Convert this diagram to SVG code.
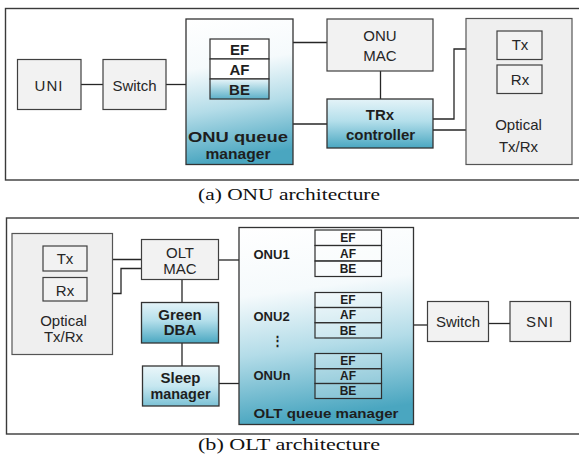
<svg xmlns="http://www.w3.org/2000/svg" width="579" height="459" viewBox="0 0 579 459">
<defs>
<linearGradient id="qm" x1="0" y1="0" x2="0.12" y2="1">
<stop offset="0" stop-color="#ffffff"/>
<stop offset="0.35" stop-color="#f5fafc"/>
<stop offset="0.65" stop-color="#b3dce8"/>
<stop offset="1" stop-color="#4aa6c0"/>
</linearGradient>
<linearGradient id="dk" x1="0" y1="0" x2="0" y2="1">
<stop offset="0" stop-color="#e4f3f8"/>
<stop offset="0.45" stop-color="#b4dfeb"/>
<stop offset="1" stop-color="#4aa7c1"/>
</linearGradient>
<linearGradient id="lt" x1="0" y1="0" x2="0" y2="1">
<stop offset="0" stop-color="#eaf6fa"/>
<stop offset="0.5" stop-color="#c6e7f0"/>
<stop offset="1" stop-color="#7cc2d6"/>
</linearGradient>
<linearGradient id="be" x1="0" y1="0" x2="0" y2="1">
<stop offset="0" stop-color="#e8f5f9"/>
<stop offset="1" stop-color="#5cb0c8"/>
</linearGradient>
</defs>
<style>
.frame{fill:#ffffff;stroke:#3a3a3a;stroke-width:1.4}
.box{fill:#f2f2f2;stroke:#3f3f3f;stroke-width:1.2}
.opt{fill:#efefef;stroke:#555555;stroke-width:1.2}
.qm{fill:url(#qm);stroke:#333333;stroke-width:1.3}
.dk{fill:url(#dk);stroke:#333333;stroke-width:1.3}
.lt{fill:url(#lt);stroke:#333333;stroke-width:1.3}
.cell{fill:#ffffff;stroke:#2e2e2e;stroke-width:1.2}
.cellt{fill:#ffffff;fill-opacity:0.25;stroke:#2e2e2e;stroke-width:1.2}
.t{font-family:"Liberation Sans",Arial,sans-serif;font-size:15px;fill:#262626;text-anchor:middle}
.b{font-family:"Liberation Sans",Arial,sans-serif;font-size:15px;font-weight:bold;fill:#1e1e1e;text-anchor:middle}
.bs{font-family:"Liberation Sans",Arial,sans-serif;font-size:12px;font-weight:bold;fill:#1e1e1e;text-anchor:middle}
.bl{font-family:"Liberation Sans",Arial,sans-serif;font-size:13px;font-weight:bold;fill:#1e1e1e}
.cap{font-family:"Liberation Serif","Times New Roman",serif;font-size:17px;fill:#111111;text-anchor:middle}
.ln{fill:none;stroke:#262626;stroke-width:1.3}
</style>

<!-- frames -->
<rect class="frame" x="5.5" y="8.5" width="576" height="171.5"/>
<rect class="frame" x="6.5" y="218" width="576" height="216"/>

<!-- connectors -->
<g id="connectors">
<line class="ln" x1="81" y1="84.5" x2="103" y2="84.5"/>
<line class="ln" x1="166" y1="84.5" x2="186" y2="84.5"/>
<line class="ln" x1="293" y1="42.5" x2="327" y2="42.5"/>
<line class="ln" x1="293" y1="124" x2="327" y2="124"/>
<line class="ln" x1="380.5" y1="71" x2="380.5" y2="99"/>
<polyline class="ln" points="433,119 454,119 454,49 497,49"/>
<polyline class="ln" points="433,130 475.5,130 475.5,79.5 497,79.5"/>
<line class="ln" x1="87" y1="259.5" x2="141" y2="259.5"/>
<polyline class="ln" points="87,293.5 121,293.5 121,268.5 141,268.5"/>
<line class="ln" x1="218" y1="260" x2="239" y2="260"/>
<line class="ln" x1="182" y1="279" x2="182" y2="302"/>
<line class="ln" x1="182" y1="343" x2="182" y2="366"/>
<line class="ln" x1="219" y1="383.5" x2="239" y2="383.5"/>
<line class="ln" x1="413" y1="325" x2="427" y2="325"/>
<line class="ln" x1="488" y1="323.5" x2="510" y2="323.5"/>
</g>

<!-- ONU architecture -->
<g id="uni">
<rect class="box" x="17.5" y="59.5" width="63.5" height="50"/>
<text class="t" x="49" y="90.5" font-size="16.5" letter-spacing="1">UNI</text>
</g>
<g id="onu-switch">
<rect class="box" x="103" y="59.5" width="63" height="50"/>
<text class="t" x="134.5" y="90.5" font-size="16.5">Switch</text>
</g>
<g id="onu-queue-manager">
<rect class="qm" x="186" y="19" width="107" height="145.5"/>
<rect class="cell" x="210" y="39" width="59" height="20"/>
<rect class="cell" x="210" y="59" width="59" height="20"/>
<rect x="210" y="79" width="59" height="20" fill="url(#be)" stroke="#2e2e2e" stroke-width="1.2"/>
<text class="b" x="239.5" y="55" font-size="15">EF</text>
<text class="b" x="239.5" y="75" font-size="15">AF</text>
<text class="b" x="239.5" y="95" font-size="15">BE</text>
<text class="b" x="238" y="141.5" font-size="16" textLength="100" lengthAdjust="spacingAndGlyphs">ONU queue</text>
<text class="b" x="238" y="158.5" font-size="16" textLength="65" lengthAdjust="spacingAndGlyphs">manager</text>
</g>
<g id="onu-mac">
<rect class="box" x="327" y="19" width="106" height="52"/>
<text class="t" x="380" y="40.5" font-size="15">ONU</text>
<text class="t" x="380" y="60.5" font-size="15">MAC</text>
</g>
<g id="trx-controller">
<rect class="dk" x="327" y="99" width="106" height="49"/>
<text class="b" x="380" y="120" font-size="15">TRx</text>
<text class="b" x="380.5" y="140" font-size="15.5">controller</text>
</g>
<g id="onu-optical">
<rect class="opt" x="466" y="18.5" width="106" height="146"/>
<rect class="box" x="497" y="31" width="45" height="28.5"/>
<rect class="box" x="497" y="65" width="45" height="28.5"/>
<text class="t" x="520" y="50" font-size="14.5">Tx</text>
<text class="t" x="520" y="85" font-size="14.5">Rx</text>
<text class="t" x="518.5" y="129.5" font-size="15.5">Optical</text>
<text class="t" x="518.5" y="151.5" font-size="15.5">Tx/Rx</text>
</g>
<text class="cap" x="289" y="199.5" textLength="182" lengthAdjust="spacingAndGlyphs">(a) ONU architecture</text>

<!-- OLT architecture -->
<g id="olt-optical">
<rect class="opt" x="12" y="233.5" width="100.5" height="121"/>
<rect class="box" x="43" y="246" width="44" height="25"/>
<rect class="box" x="43" y="277.5" width="44" height="23.5"/>
<text class="t" x="65" y="263.5" font-size="13.5">Tx</text>
<text class="t" x="65" y="295.5" font-size="13.5">Rx</text>
<text class="t" x="63.5" y="326" font-size="14.5">Optical</text>
<text class="t" x="63.5" y="342" font-size="14.5">Tx/Rx</text>
</g>
<g id="olt-mac">
<rect class="box" x="141.5" y="239.5" width="77" height="40"/>
<text class="t" x="180" y="257.5" font-size="14">OLT</text>
<text class="t" x="180" y="273.5" font-size="14">MAC</text>
</g>
<g id="green-dba">
<rect class="dk" x="141.5" y="302.5" width="77" height="40.5"/>
<text class="b" x="180" y="319.5" font-size="13.5">Green</text>
<text class="b" x="180" y="335" font-size="13.5">DBA</text>
</g>
<g id="sleep-manager">
<rect class="lt" x="142.5" y="366" width="76.5" height="40"/>
<text class="b" x="180.5" y="383" font-size="13.5">Sleep</text>
<text class="b" x="180.5" y="399" font-size="13.5" textLength="60" lengthAdjust="spacingAndGlyphs">manager</text>
</g>
<g id="olt-queue-manager">
<rect class="qm" x="239" y="227.5" width="174.5" height="197"/>
<text class="bl" x="253.5" y="258.5">ONU1</text>
<text class="bl" x="253.5" y="320.5">ONU2</text>
<text class="bl" x="271" y="345">⋮</text>
<text class="bl" x="253.5" y="379.5">ONUn</text>
<text class="bl" x="253.5" y="418" textLength="145" lengthAdjust="spacingAndGlyphs">OLT queue manager</text>
<rect class="cellt" x="315" y="230" width="66.5" height="15.5"/>
<rect class="cellt" x="315" y="245.5" width="66.5" height="15.5"/>
<rect class="cellt" x="315" y="261" width="66.5" height="15.5"/>
<text class="bs" x="348" y="242">EF</text>
<text class="bs" x="348" y="257.5">AF</text>
<text class="bs" x="348" y="273">BE</text>
<rect class="cellt" x="315" y="292.5" width="66.5" height="15"/>
<rect class="cellt" x="315" y="307.5" width="66.5" height="15.2"/>
<rect class="cellt" x="315" y="322.7" width="66.5" height="15.3"/>
<text class="bs" x="348" y="304">EF</text>
<text class="bs" x="348" y="319.3">AF</text>
<text class="bs" x="348" y="334.5">BE</text>
<rect class="cellt" x="315" y="353.5" width="66.5" height="15.2"/>
<rect class="cellt" x="315" y="368.7" width="66.5" height="14.8"/>
<rect class="cellt" x="315" y="383.5" width="66.5" height="15"/>
<text class="bs" x="348" y="365">EF</text>
<text class="bs" x="348" y="380">AF</text>
<text class="bs" x="348" y="395">BE</text>
</g>
<g id="olt-switch">
<rect class="box" x="427.5" y="301.5" width="61" height="40"/>
<text class="t" x="458" y="327" font-size="15">Switch</text>
</g>
<g id="sni">
<rect class="box" x="510" y="301.5" width="60.5" height="40"/>
<text class="t" x="540" y="327" font-size="15" letter-spacing="1">SNI</text>
</g>
<text class="cap" x="289" y="449.5" textLength="182" lengthAdjust="spacingAndGlyphs">(b) OLT architecture</text>
</svg>
